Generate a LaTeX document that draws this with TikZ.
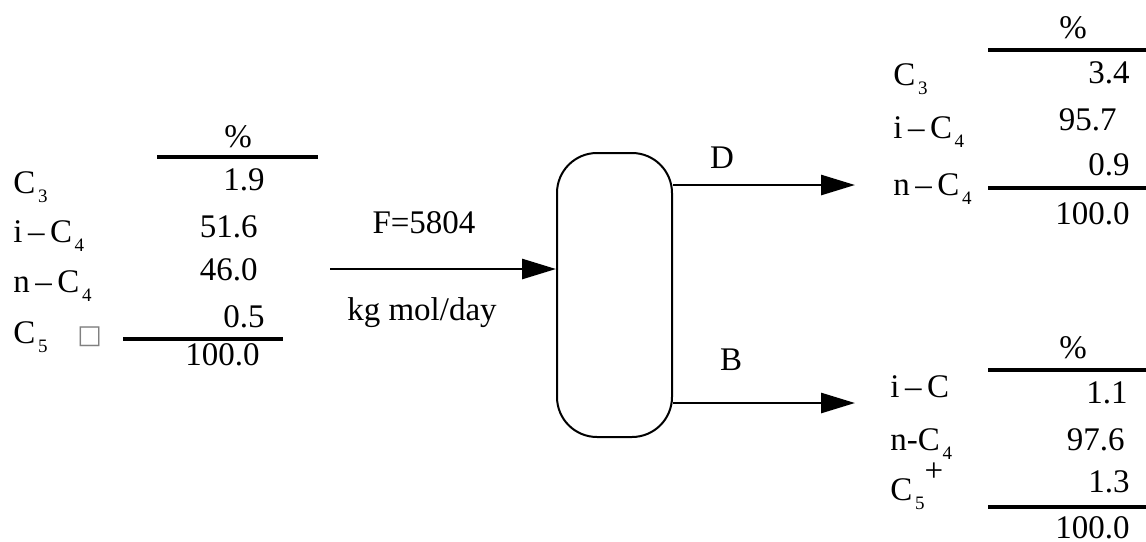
\documentclass[tikz,border=0pt]{standalone}
\usepackage{fontspec}
\setmainfont{Liberation Serif}
\newfontfamily\boxfont{DejaVu Sans}
\usetikzlibrary{arrows.meta,positioning}

\newcommand{\sub}[1]{\kern0.08em\raisebox{-0.6ex}{\fontsize{9.5}{10}\selectfont #1}}

\tikzset{
  txt/.style={inner sep=0pt, font=\fontsize{16.5}{18}\selectfont},
  lab/.style={txt, anchor=base west},
  val/.style={txt, anchor=base east},
  rule/.style={line width=2pt},
  flow/.style={line width=1.4pt, -{Triangle[length=17pt,width=10pt]}},
  column/.style={draw, line width=1pt, rounded corners=20pt,
    minimum width=57.5pt, minimum height=142pt, inner sep=0pt}
}

\begin{document}
\begin{tikzpicture}[x=0.5pt,y=-0.5pt]
  \useasboundingbox (0,0) rectangle (1146,541);

  % feed table
  \node[txt, anchor=base] (fpct) at (238,147) {\%};
  \node[lab] (fc3) at (13,193) {C\sub{3}};
  \node[lab] (fic4) at (13,242) {i\,–\,C\sub{4}};
  \node[lab] (fnc4) at (13,292) {n\,–\,C\sub{4}};
  \node[lab] (fc5) at (13,343) {C\sub{5}\hspace{0.9em}{\boxfont\fontsize{13}{16}\selectfont\color{gray}□}};
  \node[val] (fv1) at (265,190) {1.9};
  \node[val] (fv2) at (258,237) {51.6};
  \node[val] (fv3) at (258,280) {46.0};
  \node[val] (fv4) at (265,327) {0.5};
  \node[val] (fsum) at (260,365) {100.0};
  \draw[rule] (157,157) -- (318,157);
  \draw[rule] (123,339) -- (283,339);

  % column
  \node[column] (col) at (614.5,295) {};
  \coordinate (fin) at (330,269);
  \coordinate (dout) at (855,185);
  \coordinate (bout) at (855,403);
  \draw[flow] (fin) -- (col.west |- fin);
  \draw[flow] (col.east |- dout) -- (dout);
  \draw[flow] (col.east |- bout) -- (bout);
  \node[txt, anchor=base] (feed) at (424,233) {F=5804};
  \node[txt, anchor=base] (unit) at (422,320) {kg mol/day};
  \node[txt, anchor=base] (dlab) at (722,168) {D};
  \node[txt, anchor=base] (blab) at (731,370) {B};

  % distillate table
  \node[txt, anchor=base] (dpct) at (1073,38) {\%};
  \draw[rule] (988,50) -- (1146,50);
  \node[lab] (dc3) at (893,85) {C\sub{3}};
  \node[lab] (dic4) at (893,138) {i\,–\,C\sub{4}};
  \node[lab] (dnc4) at (893,195) {n\,–\,C\sub{4}};
  \node[val] (dv1) at (1130,83) {3.4};
  \node[val] (dv2) at (1117,130) {95.7};
  \node[val] (dv3) at (1130,175) {0.9};
  \draw[rule] (988,188) -- (1146,188);
  \node[val] (dsum) at (1130,224) {100.0};

  % bottoms table
  \node[txt, anchor=base] (bpct) at (1073,358) {\%};
  \draw[rule] (988,370) -- (1146,370);
  \node[lab] (bic) at (890,397) {i\,–\,C};
  \node[lab] (bnc4) at (890,450) {n-C\sub{4}};
  \node[lab] (bc5) at (890,500) {C\sub{5}\raisebox{1.2ex}{+}};
  \node[val] (bv1) at (1128,403) {1.1};
  \node[val] (bv2) at (1125,450) {97.6};
  \node[val] (bv3) at (1130,492) {1.3};
  \draw[rule] (988,507) -- (1146,507);
  \node[val] (bsum) at (1130,538) {100.0};
\end{tikzpicture}
\end{document}
